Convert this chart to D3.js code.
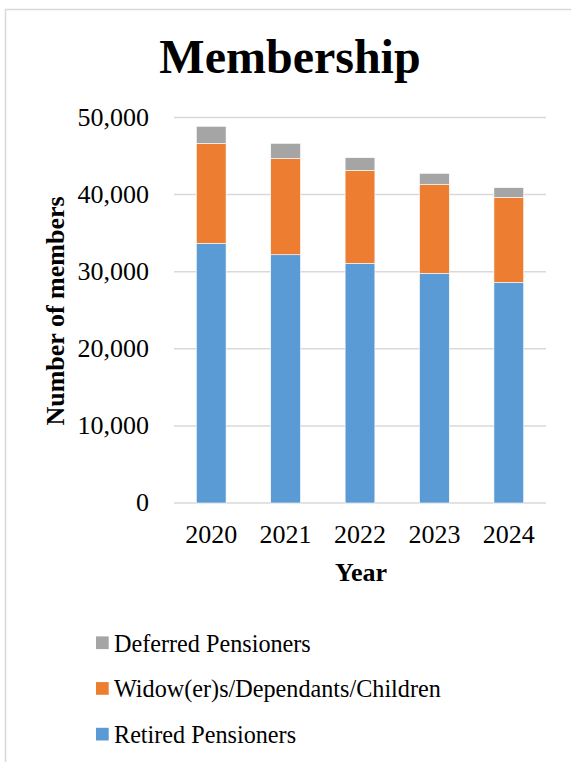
<!DOCTYPE html>
<html><head><meta charset="utf-8">
<script src="https://cdn.jsdelivr.net/npm/d3@7"></script>
<style>
html,body{margin:0;padding:0;background:#fff;}
svg{display:block;}
svg text{font-family:"Liberation Serif","Times New Roman",serif;}
</style></head>
<body>
<svg id="chart" width="571" height="762"></svg>
<script>
const years = ["2020","2021","2022","2023","2024"];
const retired = [33680, 32200, 31090, 29790, 28620];
const widows = [12970, 12510, 12060, 11550, 11030];
const deferred = [2210, 1940, 1640, 1420, 1250];
const yTicks = [0, 10000, 20000, 30000, 40000, 50000];
const seriesNames = ["Retired Pensioners", "Widow(er)s/Dependants/Children", "Deferred Pensioners"];
const seriesColors = ["#5b9bd5", "#ed7d31", "#a5a5a5"];

const FONT = "Liberation Serif, Times New Roman, serif";
const rows = years.map((yr, i) => ({year: yr, r: retired[i], w: widows[i], d: deferred[i]}));
const stack = d3.stack().keys(["r", "w", "d"])(rows);

const svg = d3.select("#chart");
// chart border
svg.append("path").attr("d", "M5.5,762 L5.5,9.5 L571,9.5")
  .attr("fill", "none").attr("stroke", "#d9d9d9").attr("stroke-width", 1.5);

const pLeft = 174, pRight = 546, pTop = 117.5, pBottom = 503;
const x = d3.scaleBand().domain(years).range([pLeft, pRight]).paddingInner(0.6).paddingOuter(0.3);
const y = d3.scaleLinear().domain([0, 50000]).range([pBottom, pTop]);

// gridlines
svg.append("g").selectAll("line").data(yTicks).join("line")
  .attr("x1", pLeft).attr("x2", pRight)
  .attr("y1", d => y(d)).attr("y2", d => y(d))
  .attr("stroke", "#d9d9d9").attr("stroke-width", 1.5);

// bars
svg.append("g").selectAll("g").data(stack).join("g")
  .attr("fill", (d, i) => seriesColors[i])
  .selectAll("rect").data(d => d).join("rect")
  .attr("x", d => x(d.data.year))
  .attr("width", x.bandwidth())
  .attr("y", d => y(d[1]))
  .attr("height", d => y(d[0]) - y(d[1]))
  .attr("stroke", "#ffffff").attr("stroke-width", 0.6);

// y axis
const yAxis = d3.axisLeft(y).tickValues(yTicks).tickSize(0).tickPadding(0)
  .tickFormat(d3.format(","));
const ga = svg.append("g").attr("transform", `translate(149,0)`).call(yAxis)
  .attr("font-family", FONT).attr("font-size", 26);
ga.select(".domain").remove();
ga.selectAll("text").attr("fill", "#000").attr("dy", "0.3em");

// x axis
const xAxis = d3.axisBottom(x).tickSize(0).tickPadding(0);
const gx = svg.append("g").attr("transform", `translate(0,${pBottom})`).call(xAxis)
  .attr("font-family", FONT).attr("font-size", 26);
gx.select(".domain").remove();
gx.selectAll("text").attr("fill", "#000").attr("dy", null).attr("y", 40);

// title
svg.append("text").attr("x", 290).attr("y", 73).attr("text-anchor", "middle")
  .attr("font-family", FONT).attr("font-size", 48).attr("font-weight", "bold").text("Membership");

// axis titles
svg.append("text").attr("x", 361).attr("y", 581).attr("text-anchor", "middle")
  .attr("font-family", FONT).attr("font-size", 26).attr("font-weight", "bold").text("Year");
svg.append("text").attr("transform", "translate(64,311) rotate(-90)").attr("text-anchor", "middle")
  .attr("font-family", FONT).attr("font-size", 26).attr("font-weight", "bold").text("Number of members");

// legend (reverse order)
const legendOrder = [2, 1, 0];
const lg = svg.append("g").selectAll("g").data(legendOrder).join("g")
  .attr("transform", (d, i) => `translate(96,${642.7 + i * 45.7})`);
lg.append("rect").attr("x", 0).attr("y", -6.3).attr("width", 12.7).attr("height", 12.7)
  .attr("fill", d => seriesColors[d]);
lg.append("text").attr("x", 18).attr("y", 9).attr("font-family", FONT).attr("font-size", 24.2).attr("fill", "#000")
  .text(d => seriesNames[d]);
</script>
</body></html>
